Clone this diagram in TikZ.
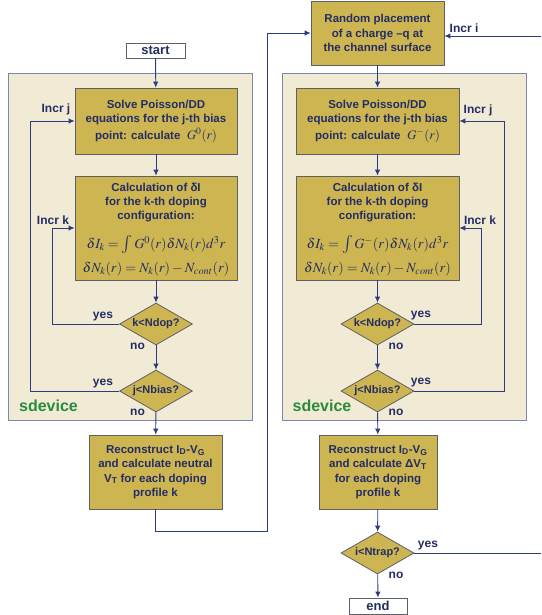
\documentclass[tikz,border=0pt]{standalone}
\usepackage{mathptmx}
\usepackage[no-math]{fontspec}
\setmainfont{Liberation Sans}
\usetikzlibrary{arrows.meta,shapes.geometric}
\definecolor{boxfill}{RGB}{205,181,82}
\definecolor{boxdraw}{RGB}{95,95,105}
\definecolor{panelfill}{RGB}{241,235,214}
\definecolor{paneldraw}{RGB}{125,135,170}
\definecolor{txt}{RGB}{35,45,100}
\definecolor{arr}{RGB}{45,60,125}
\definecolor{sdgreen}{RGB}{40,140,60}
\tikzset{
  panel/.style={draw=paneldraw, fill=panelfill, line width=0.9pt, inner sep=0pt},
  box/.style={draw=boxdraw, fill=boxfill, text=txt, line width=0.8pt, inner sep=0pt, align=center,
    font=\bfseries\fontsize{11.5}{14.5}\selectfont},
  calcbox/.style={box, font=\bfseries\fontsize{11.5}{14}\selectfont},
  term/.style={draw=boxdraw, fill=white, text=txt, line width=0.8pt, inner sep=0pt,
    font=\bfseries\fontsize{13}{14}\selectfont},
  dec/.style={diamond, draw=boxdraw, fill=boxfill, text=txt, line width=0.8pt, inner sep=0pt, aspect=1.7,
    minimum width=73pt, minimum height=42pt, font=\bfseries\fontsize{11}{12}\selectfont},
  lbl/.style={text=txt, inner sep=0pt, font=\bfseries\fontsize{12}{14}\selectfont},
  sd/.style={text=sdgreen, inner sep=0pt, font=\bfseries\fontsize{16}{18}\selectfont},
  conn/.style={draw=arr, line width=0.9pt},
  arrow/.style={conn, -{Latex[length=6pt,width=5.5pt]}},
}
\newcommand{\mline}[1]{{\fontsize{14}{14}\selectfont\smash{$#1$}}}
\newcommand{\bigint}{\mathop{\mbox{\fontsize{18}{18}\selectfont$\int$}}\nolimits}
\begin{document}
\begin{tikzpicture}[x=1pt,y=-1pt]
\useasboundingbox (0,0) rectangle (541,615);
% panels
\node[panel, minimum width=244pt, minimum height=347pt] (panelL) at (130,246.5) {};
\node[panel, minimum width=244pt, minimum height=347pt] (panelR) at (404,246.5) {};
\node[sd] (sdL) at (48.5,406) {sdevice};
\node[sd] (sdR) at (322,406) {sdevice};
% left column
\node[term, minimum width=59pt, minimum height=15pt] (start) at (155.5,50.5) {start};
\node[box, minimum width=162pt, minimum height=66pt] (solveL) at (156,121)
  {Solve Poisson/DD\\ equations for the j-th bias\\[2pt] point: calculate \ {\fontsize{13}{14}\selectfont$G^0(r)$}};
\node[calcbox, minimum width=162pt, minimum height=104pt] (calcL) at (156,228)
  {Calculation of δI\\ for the k-th doping\\ configuration:\\[15pt]
   \mline{\delta I_k=\bigint G^0(r)\delta N_k(r)d^3r}\\[10pt]
   \mline{\delta N_k(r)=N_k(r)-N_{cont}(r)}};
\node[dec] (kL) at (156,324) {k<Ndop?};
\node[dec] (jL) at (156,391) {j<Nbias?};
\node[box, minimum width=133pt, minimum height=74pt] (recL) at (155.5,472)
  {Reconstruct I\textsubscript{D}-V\textsubscript{G}\\ and calculate neutral\\ V\textsubscript{T} for each doping\\ profile k};
% right column
\node[box, minimum width=133pt, minimum height=64pt] (rand) at (377.5,33)
  {Random placement\\ of a charge –q at\\ the channel surface};
\node[box, minimum width=163pt, minimum height=66pt] (solveR) at (377.5,121)
  {Solve Poisson/DD\\ equations for the j-th bias\\[2pt] point: calculate \ {\fontsize{13}{14}\selectfont$G^{-}(r)$}};
\node[calcbox, minimum width=163pt, minimum height=104pt] (calcR) at (377.5,228)
  {Calculation of δI\\ for the k-th doping\\ configuration:\\[15pt]
   \mline{\delta I_k=\bigint G^{-}(r)\delta N_k(r)d^3r}\\[10pt]
   \mline{\delta N_k(r)=N_k(r)-N_{cont}(r)}};
\node[dec] (kR) at (377.5,324) {k<Ndop?};
\node[dec] (jR) at (377.5,391) {j<Nbias?};
\node[box, minimum width=118pt, minimum height=74pt] (recR) at (378,472)
  {Reconstruct I\textsubscript{D}-V\textsubscript{G}\\ and calculate ΔV\textsubscript{T}\\ for each doping\\ profile k};
\node[dec] (nt) at (377.5,553) {i<Ntrap?};
\node[term, minimum width=58pt, minimum height=16pt] (end) at (378,606) {end};
% coordinates
\coordinate (inI) at (541,36);
\coordinate (outY) at (541,553);
% labels
\node[lbl] (incrjL) at (56,109) {Incr j};
\node[lbl] (incrkL) at (53,220) {Incr k};
\node[lbl] (incrjR) at (478,110) {Incr j};
\node[lbl] (incrkR) at (480,220) {Incr k};
\node[lbl] (incri) at (464,28) {Incr i};
\node[lbl] (yk1) at (103,317) {yes};
\node[lbl] (yj1) at (103,384) {yes};
\node[lbl] (nk1) at (137.5,346) {no};
\node[lbl] (nj1) at (137.5,412) {no};
\node[lbl] (yk2) at (421,316) {yes};
\node[lbl] (yj2) at (421,383) {yes};
\node[lbl] (nk2) at (396,346) {no};
\node[lbl] (nj2) at (396,412) {no};
\node[lbl] (yn) at (428,546) {yes};
\node[lbl] (nn) at (396,575) {no};
% connectors left
\draw[arrow] (start) -- (solveL);
\draw[arrow] (solveL) -- (calcL);
\draw[arrow] (calcL) -- (kL);
\draw[arrow] (kL) -- (jL);
\draw[arrow] (jL) -- (recL);
\draw[arrow] (kL.west) -- (52,324) -- (52,228) -- (calcL.west);
\draw[arrow] (jL.west) -- (30,391) -- (30,121) -- (solveL.west);
\draw[arrow] (recL.south) -- (155.5,531) -- (267,531) -- (267,33) -- (rand.west);
% connectors right
\draw[arrow] (inI) -- (rand.east |- inI);
\draw[arrow] (rand) -- (solveR);
\draw[arrow] (solveR) -- (calcR);
\draw[arrow] (calcR) -- (kR);
\draw[arrow] (kR) -- (jR);
\draw[arrow] (jR) -- (recR);
\draw[arrow] (recR) -- (nt);
\draw[arrow] (nt) -- (end);
\draw[arrow] (kR.east) -- (481,324) -- (481,228) -- (calcR.east);
\draw[arrow] (jR.east) -- (504,391) -- (504,121) -- (solveR.east);
\draw[conn] (nt.east) -- (outY);
\end{tikzpicture}
\end{document}
